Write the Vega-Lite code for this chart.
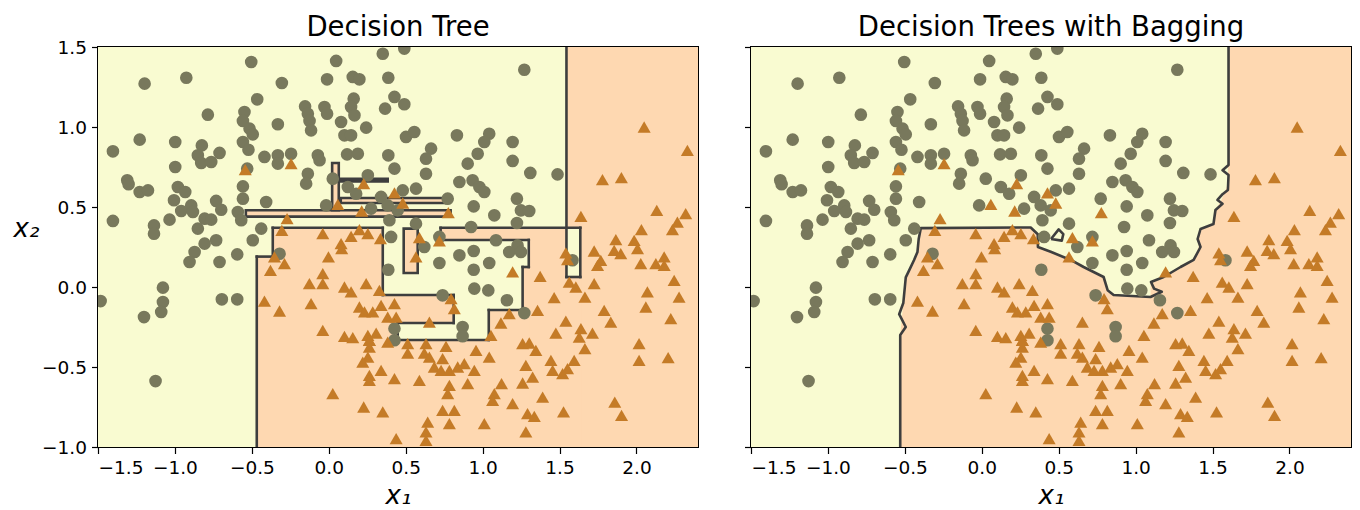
{
  "$schema": "https://vega.github.io/schema/vega-lite/v6.json",
  "padding": {"left": 12, "top": 13, "right": 5, "bottom": 0},
  "background": "#ffffff",
  "config": {
    "font": "DejaVu Sans",
    "view": {"stroke": "#000000", "strokeWidth": 2, "fill": null},
    "axis": {"domain": false, "grid": false, "ticks": true, "tickColor": "#000000", "tickSize": 6.5, "tickWidth": 1.2, "labelColor": "#000000", "labelFont": "DejaVu Sans", "labelFontSize": 18.5, "labelPadding": 5, "titleFont": "DejaVu Sans", "titleFontSize": 26, "titleFontWeight": "normal", "titleFontStyle": "italic", "titleColor": "#000000"},
    "title": {"font": "DejaVu Sans", "fontSize": 27.5, "fontWeight": "normal", "color": "#000000", "offset": 4.5, "frame": "group"}
  },
  "datasets": {
    "bg": [{"x": -1.5, "x2": 2.4, "y": -1, "y2": 1.5}],
    "tree": [
      {"x": 1.545, "x2": 2.4, "y": 0.37, "y2": 1.5, "o": false},
      {"x": 1.635, "x2": 2.4, "y": -1, "y2": 0.375, "o": false},
      {"x": 1.54, "x2": 1.64, "y": -1, "y2": 0.0625, "o": false},
      {"x": 0.727, "x2": 1.545, "y": 0.294, "y2": 0.37, "o": false},
      {"x": 1.3, "x2": 1.545, "y": -1, "y2": 0.3, "o": false},
      {"x": 1.255, "x2": 1.305, "y": -1, "y2": 0.125, "o": false},
      {"x": 1.035, "x2": 1.26, "y": -1, "y2": -0.144, "o": false},
      {"x": -0.468, "x2": 1.04, "y": -1, "y2": -0.326, "o": false},
      {"x": -0.468, "x2": 0.351, "y": -0.331, "y2": 0.195, "o": false},
      {"x": -0.364, "x2": 0.351, "y": 0.19, "y2": 0.37, "o": false},
      {"x": 0.346, "x2": 0.812, "y": -0.225, "y2": -0.05, "o": false},
      {"x": 0.346, "x2": 0.448, "y": -0.331, "y2": -0.22, "o": false},
      {"x": 0.487, "x2": 0.578, "y": 0.0875, "y2": 0.365, "o": true},
      {"x": -0.539, "x2": 0.792, "y": 0.44, "y2": 0.48, "o": true},
      {"x": 0.078, "x2": 0.773, "y": 0.525, "y2": 0.556, "o": true},
      {"x": 0.022, "x2": 0.065, "y": 0.48, "y2": 0.775, "o": true},
      {"x": 0.065, "x2": 0.383, "y": 0.66, "y2": 0.677, "o": true}
    ],
    "treeEdges": [
      {"x": 1.545, "y": 0.0625, "x2": 1.545, "y2": 1.5},
      {"x": 0.727, "y": 0.37, "x2": 1.635, "y2": 0.37},
      {"x": 1.635, "y": 0.0625, "x2": 1.635, "y2": 0.37},
      {"x": 1.545, "y": 0.0625, "x2": 1.635, "y2": 0.0625},
      {"x": 0.727, "y": 0.294, "x2": 0.727, "y2": 0.37},
      {"x": 0.727, "y": 0.294, "x2": 1.3, "y2": 0.294},
      {"x": 1.3, "y": 0.125, "x2": 1.3, "y2": 0.294},
      {"x": 1.26, "y": 0.125, "x2": 1.3, "y2": 0.125},
      {"x": 1.26, "y": -0.144, "x2": 1.26, "y2": 0.125},
      {"x": 1.04, "y": -0.144, "x2": 1.26, "y2": -0.144},
      {"x": 1.04, "y": -0.331, "x2": 1.04, "y2": -0.144},
      {"x": 0.448, "y": -0.331, "x2": 1.04, "y2": -0.331},
      {"x": 0.448, "y": -0.331, "x2": 0.448, "y2": -0.225},
      {"x": 0.448, "y": -0.225, "x2": 0.812, "y2": -0.225},
      {"x": 0.812, "y": -0.225, "x2": 0.812, "y2": -0.05},
      {"x": 0.351, "y": -0.05, "x2": 0.812, "y2": -0.05},
      {"x": 0.351, "y": -0.05, "x2": 0.351, "y2": 0.37},
      {"x": -0.364, "y": 0.37, "x2": 0.351, "y2": 0.37},
      {"x": -0.364, "y": 0.19, "x2": -0.364, "y2": 0.37},
      {"x": -0.468, "y": 0.19, "x2": -0.364, "y2": 0.19},
      {"x": -0.468, "y": -1, "x2": -0.468, "y2": 0.19}
    ],
    "bagFill": [
      {"x": -0.53, "y": -0.3}, {"x": -0.51, "y": -0.1}, {"x": -0.5, "y": 0.0}, {"x": -0.494, "y": 0.06},
      {"x": -0.472, "y": 0.104}, {"x": -0.44, "y": 0.169}, {"x": -0.418, "y": 0.219}, {"x": -0.41, "y": 0.3},
      {"x": -0.396, "y": 0.368}, {"x": 0.318, "y": 0.372}, {"x": 0.364, "y": 0.33}, {"x": 0.365, "y": 0.25},
      {"x": 0.448, "y": 0.22}, {"x": 0.578, "y": 0.169}, {"x": 0.662, "y": 0.125}, {"x": 0.792, "y": 0.0625},
      {"x": 0.818, "y": -0.02}, {"x": 0.857, "y": -0.05}, {"x": 1.097, "y": -0.0625}, {"x": 1.0975, "y": 0.031},
      {"x": 1.182, "y": 0.0625}, {"x": 1.292, "y": 0.125}, {"x": 1.377, "y": 0.169}, {"x": 1.41, "y": 0.25},
      {"x": 1.412, "y": 0.3}, {"x": 1.422, "y": 0.3625}, {"x": 1.506, "y": 0.394}, {"x": 1.519, "y": 0.481},
      {"x": 1.55, "y": 0.53}, {"x": 1.58, "y": 0.59}, {"x": 1.6, "y": 0.65}, {"x": 1.604, "y": 1.5}, {"x": 2.4, "y": 1.5}
    ],
    "bagLine": [
      {"p": "main", "i": 0, "x": -0.53, "y": -1.0}, {"p": "main", "i": 1, "x": -0.53, "y": -0.3},
      {"p": "main", "i": 2, "x": -0.494, "y": -0.25}, {"p": "main", "i": 3, "x": -0.537, "y": -0.17},
      {"p": "main", "i": 4, "x": -0.51, "y": -0.1}, {"p": "main", "i": 5, "x": -0.5, "y": 0.0},
      {"p": "main", "i": 6, "x": -0.494, "y": 0.06}, {"p": "main", "i": 7, "x": -0.472, "y": 0.104},
      {"p": "main", "i": 8, "x": -0.44, "y": 0.169}, {"p": "main", "i": 9, "x": -0.418, "y": 0.219},
      {"p": "main", "i": 10, "x": -0.41, "y": 0.3}, {"p": "main", "i": 11, "x": -0.396, "y": 0.368},
      {"p": "main", "i": 12, "x": 0.318, "y": 0.372}, {"p": "main", "i": 13, "x": 0.364, "y": 0.33},
      {"p": "main", "i": 14, "x": 0.365, "y": 0.25}, {"p": "main", "i": 15, "x": 0.448, "y": 0.22},
      {"p": "main", "i": 16, "x": 0.578, "y": 0.169}, {"p": "main", "i": 17, "x": 0.662, "y": 0.125},
      {"p": "main", "i": 18, "x": 0.792, "y": 0.0625}, {"p": "main", "i": 19, "x": 0.818, "y": -0.02},
      {"p": "main", "i": 20, "x": 0.857, "y": -0.05}, {"p": "main", "i": 21, "x": 1.097, "y": -0.0625},
      {"p": "main", "i": 22, "x": 1.17, "y": -0.03}, {"p": "main", "i": 23, "x": 1.12, "y": -0.01},
      {"p": "main", "i": 24, "x": 1.1, "y": 0.031}, {"p": "main", "i": 25, "x": 1.182, "y": 0.0625},
      {"p": "main", "i": 26, "x": 1.292, "y": 0.125}, {"p": "main", "i": 27, "x": 1.377, "y": 0.169},
      {"p": "main", "i": 28, "x": 1.422, "y": 0.25}, {"p": "main", "i": 29, "x": 1.403, "y": 0.3},
      {"p": "main", "i": 30, "x": 1.422, "y": 0.3625}, {"p": "main", "i": 31, "x": 1.506, "y": 0.394},
      {"p": "main", "i": 32, "x": 1.519, "y": 0.481}, {"p": "main", "i": 33, "x": 1.565, "y": 0.52},
      {"p": "main", "i": 34, "x": 1.532, "y": 0.544}, {"p": "main", "i": 35, "x": 1.565, "y": 0.58},
      {"p": "main", "i": 36, "x": 1.6, "y": 0.606}, {"p": "main", "i": 37, "x": 1.604, "y": 0.7},
      {"p": "main", "i": 38, "x": 1.565, "y": 0.73}, {"p": "main", "i": 39, "x": 1.604, "y": 0.7625},
      {"p": "main", "i": 40, "x": 1.604, "y": 1.5},
      {"p": "isle", "i": 0, "x": 0.45, "y": 0.3}, {"p": "isle", "i": 1, "x": 0.5, "y": 0.36},
      {"p": "isle", "i": 2, "x": 0.53, "y": 0.33}, {"p": "isle", "i": 3, "x": 0.52, "y": 0.29},
      {"p": "isle", "i": 4, "x": 0.45, "y": 0.3}
    ],
    "points": [
      {"c": 0, "x": -0.504, "y": 1.406}, {"c": 0, "x": -0.926, "y": 1.308}, {"c": 0, "x": -1.197, "y": 1.271}, {"c": 0, "x": -0.305, "y": 1.275},
      {"c": 0, "x": -0.465, "y": 1.173}, {"c": 0, "x": -0.786, "y": 1.077}, {"c": 0, "x": -0.548, "y": 1.094}, {"c": 0, "x": -0.558, "y": 1.038},
      {"c": 0, "x": -0.331, "y": 1.017}, {"c": 0, "x": -0.515, "y": 0.99}, {"c": 0, "x": -0.494, "y": 0.954}, {"c": 0, "x": -1.229, "y": 0.921},
      {"c": 0, "x": -0.998, "y": 0.906}, {"c": 0, "x": -1.403, "y": 0.848}, {"c": 0, "x": -0.825, "y": 0.885}, {"c": 0, "x": -0.558, "y": 0.906},
      {"c": 0, "x": -0.522, "y": 0.858}, {"c": 0, "x": -0.851, "y": 0.823}, {"c": 0, "x": -0.71, "y": 0.838}, {"c": 0, "x": -0.829, "y": 0.775},
      {"c": 0, "x": -0.764, "y": 0.781}, {"c": 0, "x": -0.418, "y": 0.813}, {"c": 0, "x": -0.331, "y": 0.823}, {"c": 0, "x": -0.245, "y": 0.833},
      {"c": 0, "x": -0.331, "y": 0.771}, {"c": 0, "x": -0.998, "y": 0.75}, {"c": 0, "x": -0.53, "y": 0.74}, {"c": 0, "x": -1.31, "y": 0.667},
      {"c": 0, "x": -1.301, "y": 0.642}, {"c": 0, "x": -1.229, "y": 0.594}, {"c": 0, "x": -1.175, "y": 0.604}, {"c": 0, "x": -0.981, "y": 0.625},
      {"c": 0, "x": -0.933, "y": 0.594}, {"c": 0, "x": -1.006, "y": 0.542}, {"c": 0, "x": -0.558, "y": 0.629}, {"c": 0, "x": -0.558, "y": 0.552},
      {"c": 0, "x": -0.407, "y": 0.531}, {"c": 0, "x": -0.732, "y": 0.538}, {"c": 0, "x": -0.699, "y": 0.483}, {"c": 0, "x": -0.894, "y": 0.51},
      {"c": 0, "x": -0.959, "y": 0.475}, {"c": 0, "x": -0.883, "y": 0.469}, {"c": 0, "x": -0.591, "y": 0.469}, {"c": 0, "x": -0.569, "y": 0.417},
      {"c": 0, "x": -0.807, "y": 0.427}, {"c": 0, "x": -0.764, "y": 0.421}, {"c": 0, "x": -0.851, "y": 0.365}, {"c": 0, "x": -1.035, "y": 0.421},
      {"c": 0, "x": -1.136, "y": 0.385}, {"c": 0, "x": -1.136, "y": 0.333}, {"c": 0, "x": -1.403, "y": 0.413}, {"c": 0, "x": -0.439, "y": 0.365},
      {"c": 0, "x": -0.494, "y": 0.292}, {"c": 0, "x": -0.732, "y": 0.292}, {"c": 0, "x": -0.807, "y": 0.271},
      {"c": 0, "x": 0.351, "y": 1.458}, {"c": 0, "x": 0.491, "y": 1.49}, {"c": 0, "x": 0.048, "y": 1.413}, {"c": 0, "x": -0.011, "y": 1.298},
      {"c": 0, "x": 0.156, "y": 1.313}, {"c": 0, "x": 0.199, "y": 1.298}, {"c": 0, "x": 0.387, "y": 1.308}, {"c": 0, "x": 0.427, "y": 1.188},
      {"c": 0, "x": 0.491, "y": 1.142}, {"c": 0, "x": 0.366, "y": 1.115}, {"c": 0, "x": 0.162, "y": 1.177}, {"c": 0, "x": 0.145, "y": 1.125},
      {"c": 0, "x": 0.167, "y": 1.073}, {"c": 0, "x": -0.154, "y": 1.129}, {"c": 0, "x": -0.136, "y": 1.083}, {"c": 0, "x": -0.125, "y": 1.038},
      {"c": 0, "x": -0.115, "y": 0.979}, {"c": 0, "x": -0.028, "y": 1.125}, {"c": 0, "x": -0.011, "y": 1.083}, {"c": 0, "x": 0.08, "y": 1.031},
      {"c": 0, "x": 0.102, "y": 0.948}, {"c": 0, "x": 0.145, "y": 0.948}, {"c": 0, "x": 0.243, "y": 0.996}, {"c": 0, "x": 0.502, "y": 0.938},
      {"c": 0, "x": 0.556, "y": 0.969}, {"c": 0, "x": 0.833, "y": 0.948}, {"c": 0, "x": 1.043, "y": 0.958}, {"c": 0, "x": 1.011, "y": 0.906},
      {"c": 0, "x": 0.968, "y": 0.833}, {"c": 0, "x": 0.903, "y": 0.771}, {"c": 0, "x": 0.665, "y": 0.865}, {"c": 0, "x": 0.632, "y": 0.802},
      {"c": 0, "x": 0.387, "y": 0.823}, {"c": 0, "x": 0.427, "y": 0.74}, {"c": 0, "x": -0.071, "y": 0.823}, {"c": 0, "x": -0.06, "y": 0.792},
      {"c": 0, "x": 0.119, "y": 0.829}, {"c": 0, "x": 0.189, "y": 0.833}, {"c": 0, "x": -0.136, "y": 0.708}, {"c": 0, "x": -0.147, "y": 0.646},
      {"c": 0, "x": 0.026, "y": 0.677}, {"c": 0, "x": 0.254, "y": 0.698}, {"c": 0, "x": 0.124, "y": 0.625}, {"c": 0, "x": 0.178, "y": 0.583},
      {"c": 0, "x": 0.34, "y": 0.563}, {"c": 0, "x": 0.383, "y": 0.51}, {"c": 0, "x": 0.481, "y": 0.604}, {"c": 0, "x": 0.567, "y": 0.615},
      {"c": 0, "x": 0.632, "y": 0.708}, {"c": 0, "x": 0.773, "y": 0.552}, {"c": 0, "x": 0.849, "y": 0.656}, {"c": 0, "x": 0.935, "y": 0.667},
      {"c": 0, "x": 0.979, "y": 0.625}, {"c": 0, "x": 1.011, "y": 0.594}, {"c": 0, "x": 0.942, "y": 0.504}, {"c": 0, "x": 1.076, "y": 0.448},
      {"c": 0, "x": 0.925, "y": 0.375}, {"c": 0, "x": 1.087, "y": 0.292}, {"c": 0, "x": -0.017, "y": 0.51}, {"c": 0, "x": 0.275, "y": 0.49},
      {"c": 0, "x": 0.448, "y": 0.479}, {"c": 0, "x": 0.394, "y": 0.417}, {"c": 0, "x": 0.567, "y": 0.396}, {"c": 0, "x": 0.719, "y": 0.313},
      {"c": 0, "x": 0.405, "y": 0.313},
      {"c": 0, "x": 1.271, "y": 1.358}, {"c": 0, "x": 1.195, "y": 0.906}, {"c": 0, "x": 1.195, "y": 0.788}, {"c": 0, "x": 1.31, "y": 0.713},
      {"c": 0, "x": 1.487, "y": 0.704}, {"c": 0, "x": 1.223, "y": 0.552}, {"c": 0, "x": 1.249, "y": 0.479}, {"c": 0, "x": 1.303, "y": 0.475},
      {"c": 0, "x": 1.223, "y": 0.4}, {"c": 0, "x": 1.227, "y": 0.26},
      {"c": 0, "x": -0.872, "y": 0.219}, {"c": 0, "x": -0.905, "y": 0.156}, {"c": 0, "x": -0.71, "y": 0.156}, {"c": 0, "x": -0.595, "y": 0.204},
      {"c": 0, "x": -0.32, "y": 0.208}, {"c": 0, "x": -1.078, "y": -0.004}, {"c": 0, "x": -1.078, "y": -0.094}, {"c": 0, "x": -1.089, "y": -0.156},
      {"c": 0, "x": -1.201, "y": -0.188}, {"c": 0, "x": -1.483, "y": -0.088}, {"c": 0, "x": -0.695, "y": -0.077}, {"c": 0, "x": -0.595, "y": -0.077},
      {"c": 0, "x": -1.126, "y": -0.588},
      {"c": 0, "x": 0.387, "y": 0.108}, {"c": 0, "x": 0.74, "y": -0.052}, {"c": 0, "x": 0.427, "y": -0.26}, {"c": 0, "x": 0.427, "y": -0.333},
      {"c": 0, "x": 0.87, "y": -0.25}, {"c": 0, "x": 0.87, "y": -0.308}, {"c": 0, "x": 0.621, "y": 0.25}, {"c": 0, "x": 0.849, "y": 0.198},
      {"c": 0, "x": 0.942, "y": 0.225}, {"c": 0, "x": 0.719, "y": 0.15}, {"c": 0, "x": 0.942, "y": 0.108}, {"c": 0, "x": 1.043, "y": 0.15},
      {"c": 0, "x": 0.946, "y": -0.01}, {"c": 0, "x": 1.037, "y": -0.021},
      {"c": 0, "x": 1.173, "y": 0.219}, {"c": 0, "x": 1.249, "y": 0.219}, {"c": 0, "x": 1.158, "y": -0.083}, {"c": 0, "x": 1.271, "y": -0.163},
      {"c": 0, "x": 1.584, "y": 0.167},
      {"c": 1, "x": -0.543, "y": 0.733}, {"c": 1, "x": -0.245, "y": 0.771}, {"c": 1, "x": -0.271, "y": 0.427}, {"c": 1, "x": -0.305, "y": 0.354},
      {"c": 1, "x": 0.227, "y": 0.646}, {"c": 1, "x": 0.427, "y": 0.588}, {"c": 1, "x": 0.481, "y": 0.525}, {"c": 1, "x": 0.059, "y": 0.517},
      {"c": 1, "x": 0.214, "y": 0.475}, {"c": 1, "x": 0.777, "y": 0.465}, {"c": 1, "x": -0.039, "y": 0.333}, {"c": 1, "x": 0.145, "y": 0.317},
      {"c": 1, "x": 0.199, "y": 0.358}, {"c": 1, "x": 0.254, "y": 0.333}, {"c": 1, "x": 0.336, "y": 0.302}, {"c": 1, "x": 0.589, "y": 0.308},
      {"c": 1, "x": 0.719, "y": 0.288}, {"c": 1, "x": 0.08, "y": 0.271},
      {"c": 1, "x": 2.05, "y": 1.0}, {"c": 1, "x": 2.331, "y": 0.854}, {"c": 1, "x": 1.779, "y": 0.671}, {"c": 1, "x": 1.902, "y": 0.683},
      {"c": 1, "x": 1.639, "y": 0.442}, {"c": 1, "x": 2.132, "y": 0.479}, {"c": 1, "x": 2.32, "y": 0.458}, {"c": 1, "x": 2.266, "y": 0.406},
      {"c": 1, "x": 2.234, "y": 0.358}, {"c": 1, "x": 2.032, "y": 0.358}, {"c": 1, "x": 1.866, "y": 0.296}, {"c": 1, "x": 1.985, "y": 0.292},
      {"c": 1, "x": -0.353, "y": 0.188}, {"c": 1, "x": -0.288, "y": 0.146}, {"c": 1, "x": -0.379, "y": 0.104}, {"c": 1, "x": -0.418, "y": -0.088},
      {"c": 1, "x": -0.32, "y": -0.15},
      {"c": 1, "x": -0.002, "y": 0.188}, {"c": 1, "x": 0.084, "y": 0.24}, {"c": 1, "x": -0.126, "y": 0.021}, {"c": 1, "x": -0.039, "y": 0.083},
      {"c": 1, "x": -0.039, "y": 0.021}, {"c": 1, "x": 0.102, "y": 0.0}, {"c": 1, "x": 0.145, "y": -0.031}, {"c": 1, "x": 0.243, "y": 0.021},
      {"c": 1, "x": 0.329, "y": -0.021}, {"c": 1, "x": -0.115, "y": -0.104}, {"c": 1, "x": 0.199, "y": -0.125}, {"c": 1, "x": 0.232, "y": -0.156},
      {"c": 1, "x": 0.286, "y": -0.156}, {"c": 1, "x": 0.34, "y": -0.115}, {"c": 1, "x": 0.427, "y": -0.104}, {"c": 1, "x": 0.383, "y": -0.188},
      {"c": 1, "x": 0.438, "y": -0.188}, {"c": 1, "x": 0.567, "y": 0.188}, {"c": 1, "x": 0.795, "y": -0.073}, {"c": 1, "x": 0.816, "y": -0.135},
      {"c": 1, "x": 0.654, "y": -0.219}, {"c": 1, "x": -0.039, "y": -0.271}, {"c": 1, "x": 0.102, "y": -0.308}, {"c": 1, "x": 0.156, "y": -0.317},
      {"c": 1, "x": 0.254, "y": -0.302}, {"c": 1, "x": 0.308, "y": -0.288}, {"c": 1, "x": 0.264, "y": -0.333}, {"c": 1, "x": 0.264, "y": -0.375},
      {"c": 1, "x": 0.254, "y": -0.438}, {"c": 1, "x": 0.383, "y": -0.344}, {"c": 1, "x": 0.513, "y": -0.354}, {"c": 1, "x": 0.513, "y": -0.413},
      {"c": 1, "x": 0.632, "y": -0.354}, {"c": 1, "x": 0.621, "y": -0.413}, {"c": 1, "x": 0.654, "y": -0.438}, {"c": 1, "x": 0.762, "y": -0.371},
      {"c": 1, "x": 0.74, "y": -0.448}, {"c": 1, "x": 0.686, "y": -0.5}, {"c": 1, "x": 0.73, "y": -0.521}, {"c": 1, "x": 0.784, "y": -0.521},
      {"c": 1, "x": 0.838, "y": -0.5}, {"c": 1, "x": 0.881, "y": -0.479}, {"c": 1, "x": 0.946, "y": -0.521}, {"c": 1, "x": 0.957, "y": -0.396},
      {"c": 1, "x": 1.043, "y": -0.438}, {"c": 1, "x": 1.054, "y": -0.302}, {"c": 1, "x": 0.221, "y": -0.469}, {"c": 1, "x": 0.34, "y": -0.521},
      {"c": 1, "x": 0.264, "y": -0.552}, {"c": 1, "x": 0.264, "y": -0.583}, {"c": 1, "x": 0.427, "y": -0.573}, {"c": 1, "x": 0.589, "y": -0.583},
      {"c": 1, "x": 0.784, "y": -0.615}, {"c": 1, "x": 0.773, "y": -0.667}, {"c": 1, "x": 0.903, "y": -0.604}, {"c": 1, "x": 0.026, "y": -0.667},
      {"c": 1, "x": 0.227, "y": -0.75}, {"c": 1, "x": 0.351, "y": -0.781}, {"c": 1, "x": 0.74, "y": -0.771}, {"c": 1, "x": 0.816, "y": -0.771},
      {"c": 1, "x": 0.784, "y": -0.854}, {"c": 1, "x": 0.643, "y": -0.844}, {"c": 1, "x": 0.632, "y": -0.906}, {"c": 1, "x": 0.632, "y": -0.958},
      {"c": 1, "x": 0.438, "y": -0.948}, {"c": 1, "x": 1.011, "y": -0.854}, {"c": 1, "x": 1.076, "y": -0.667}, {"c": 1, "x": 1.065, "y": -0.708},
      {"c": 1, "x": 0.264, "y": -0.333},
      {"c": 1, "x": 1.195, "y": 0.094}, {"c": 1, "x": 1.374, "y": 0.067}, {"c": 1, "x": 1.541, "y": 0.213}, {"c": 1, "x": 1.552, "y": 0.171},
      {"c": 1, "x": 1.725, "y": 0.225}, {"c": 1, "x": 1.768, "y": 0.167}, {"c": 1, "x": 1.747, "y": 0.135}, {"c": 1, "x": 1.855, "y": 0.229},
      {"c": 1, "x": 1.898, "y": 0.208}, {"c": 1, "x": 2.007, "y": 0.24}, {"c": 1, "x": 2.028, "y": 0.146}, {"c": 1, "x": 2.126, "y": 0.146},
      {"c": 1, "x": 2.18, "y": 0.188}, {"c": 1, "x": 2.18, "y": 0.135}, {"c": 1, "x": 2.245, "y": 0.042}, {"c": 1, "x": 2.277, "y": -0.063},
      {"c": 1, "x": 2.071, "y": -0.031}, {"c": 1, "x": 2.061, "y": -0.125}, {"c": 1, "x": 2.223, "y": -0.198}, {"c": 1, "x": 1.725, "y": 0.021},
      {"c": 1, "x": 1.563, "y": 0.031}, {"c": 1, "x": 1.606, "y": 0.0}, {"c": 1, "x": 1.665, "y": -0.063}, {"c": 1, "x": 1.465, "y": -0.067},
      {"c": 1, "x": 1.357, "y": -0.146}, {"c": 1, "x": 1.173, "y": -0.167}, {"c": 1, "x": 1.119, "y": -0.225}, {"c": 1, "x": 1.541, "y": -0.213},
      {"c": 1, "x": 1.79, "y": -0.146}, {"c": 1, "x": 1.833, "y": -0.219}, {"c": 1, "x": 1.476, "y": -0.288}, {"c": 1, "x": 1.639, "y": -0.26},
      {"c": 1, "x": 1.628, "y": -0.313}, {"c": 1, "x": 1.714, "y": -0.288}, {"c": 1, "x": 1.665, "y": -0.385}, {"c": 1, "x": 1.26, "y": -0.354},
      {"c": 1, "x": 1.303, "y": -0.35}, {"c": 1, "x": 1.346, "y": -0.396}, {"c": 1, "x": 1.444, "y": -0.458}, {"c": 1, "x": 1.595, "y": -0.458},
      {"c": 1, "x": 1.455, "y": -0.521}, {"c": 1, "x": 1.52, "y": -0.542}, {"c": 1, "x": 1.552, "y": -0.51}, {"c": 1, "x": 1.281, "y": -0.49},
      {"c": 1, "x": 1.325, "y": -0.563}, {"c": 1, "x": 1.26, "y": -0.6}, {"c": 1, "x": 1.123, "y": -0.604}, {"c": 1, "x": 1.39, "y": -0.688},
      {"c": 1, "x": 1.195, "y": -0.729}, {"c": 1, "x": 1.292, "y": -0.792}, {"c": 1, "x": 1.336, "y": -0.808}, {"c": 1, "x": 1.281, "y": -0.906},
      {"c": 1, "x": 1.526, "y": -0.781}, {"c": 1, "x": 1.859, "y": -0.719}, {"c": 1, "x": 1.903, "y": -0.802}, {"c": 1, "x": 2.017, "y": -0.354},
      {"c": 1, "x": 2.017, "y": -0.458}, {"c": 1, "x": 2.206, "y": -0.442}
    ]
  },
  "spacing": 43,
  "hconcat": [
    {
      "width": 600,
      "height": 400,
      "title": {"text": "Decision Tree", "offset": -3.5},
      "encoding": {
        "x": {"field": "x", "type": "quantitative", "scale": {"domain": [-1.5, 2.4], "nice": false, "zero": false}, "axis": {"values": [-1.5, -1, -0.5, 0, 0.5, 1, 1.5, 2], "format": ".1f", "title": "x₁", "titlePadding": 5}},
        "y": {"field": "y", "type": "quantitative", "scale": {"domain": [-1, 1.5], "nice": false, "zero": false}, "axis": {"values": [-1, -0.5, 0, 0.5, 1, 1.5], "format": ".1f", "title": "x₂", "titleAngle": 0, "titleAlign": "center", "titleBaseline": "middle", "titleX": -72, "titleY": 181}}
      },
      "layer": [
        {"data": {"name": "bg"}, "mark": {"type": "rect", "color": "#f9fbd1", "clip": true}, "encoding": {"x2": {"field": "x2"}, "y2": {"field": "y2"}}},
        {"data": {"name": "tree"}, "mark": {"type": "rect", "color": "#fed8b1", "clip": true}, "encoding": {"x2": {"field": "x2"}, "y2": {"field": "y2"}}},
        {"data": {"name": "tree"}, "transform": [{"filter": "datum.o"}], "mark": {"type": "rect", "filled": false, "color": "#3e3e3e", "strokeWidth": 2.6, "clip": true}, "encoding": {"x2": {"field": "x2"}, "y2": {"field": "y2"}}},
        {"data": {"name": "treeEdges"}, "mark": {"type": "rule", "color": "#3e3e3e", "strokeWidth": 2.6, "strokeCap": "square", "clip": true}, "encoding": {"x2": {"field": "x2"}, "y2": {"field": "y2"}}},
        {"data": {"name": "points"}, "transform": [{"filter": "datum.c == 0"}], "mark": {"type": "point", "shape": "circle", "filled": true, "color": "#78785c", "opacity": 1, "size": 160, "clip": true}},
        {"data": {"name": "points"}, "transform": [{"filter": "datum.c == 1"}], "mark": {"type": "point", "shape": "triangle-up", "filled": true, "color": "#c47b27", "opacity": 1, "size": 170, "clip": true}}
      ]
    },
    {
      "width": 600,
      "height": 400,
      "title": {"text": "Decision Trees with Bagging", "offset": 4.5},
      "encoding": {
        "x": {"field": "x", "type": "quantitative", "scale": {"domain": [-1.5, 2.4], "nice": false, "zero": false}, "axis": {"values": [-1.5, -1, -0.5, 0, 0.5, 1, 1.5, 2], "format": ".1f", "title": "x₁", "titlePadding": 5}},
        "y": {"field": "y", "type": "quantitative", "scale": {"domain": [-1, 1.5], "nice": false, "zero": false}, "axis": {"values": [-1, -0.5, 0, 0.5, 1, 1.5], "labels": false, "title": null}}
      },
      "layer": [
        {"data": {"name": "bg"}, "mark": {"type": "rect", "color": "#f9fbd1", "clip": true}, "encoding": {"x2": {"field": "x2"}, "y2": {"field": "y2"}}},
        {"data": {"name": "bagFill"}, "mark": {"type": "area", "color": "#fed8b1", "opacity": 1, "clip": true}, "encoding": {"y2": {"datum": -1}}},
        {"data": {"name": "bagLine"}, "mark": {"type": "line", "color": "#3e3e3e", "strokeWidth": 2.6, "strokeJoin": "round", "clip": true}, "encoding": {"order": {"field": "i", "type": "quantitative"}, "detail": {"field": "p", "type": "nominal"}}},
        {"data": {"name": "points"}, "transform": [{"filter": "datum.c == 0"}], "mark": {"type": "point", "shape": "circle", "filled": true, "color": "#78785c", "opacity": 1, "size": 160, "clip": true}},
        {"data": {"name": "points"}, "transform": [{"filter": "datum.c == 1"}], "mark": {"type": "point", "shape": "triangle-up", "filled": true, "color": "#c47b27", "opacity": 1, "size": 170, "clip": true}}
      ]
    }
  ]
}
